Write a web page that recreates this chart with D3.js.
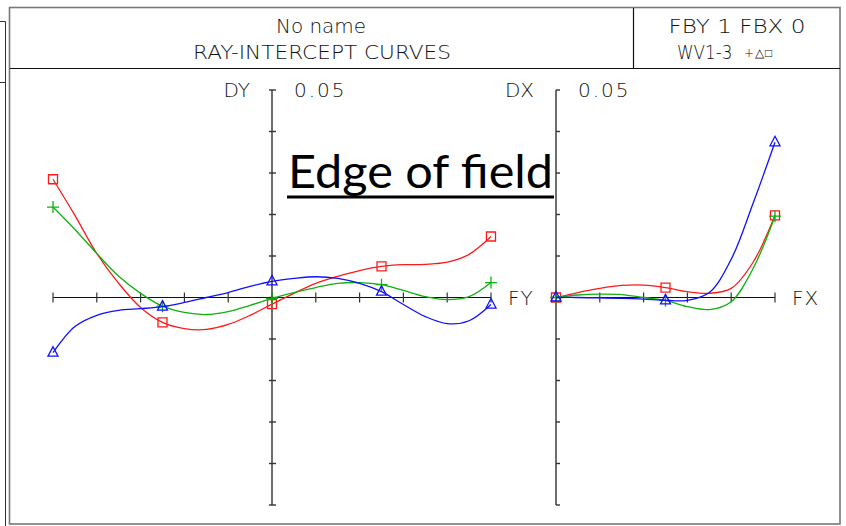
<!DOCTYPE html>
<html>
<head>
<meta charset="utf-8">
<script src="https://cdn.jsdelivr.net/npm/d3@7"></script>
<style>
  body { margin: 0; background: #fff; }
  svg text { font-family: "DejaVu Sans", sans-serif; font-weight: 200; fill: #111; }
</style>
</head>
<body>
<div id="chart-area"></div>
<script>
// ray fan samples
const fyValues = [-1, -0.9, -0.8, -0.7, -0.6, -0.5, -0.4, -0.3, -0.2, -0.1, 0, 0.1, 0.2, 0.3, 0.4, 0.5, 0.6, 0.7, 0.8, 0.9, 1];
const dyRed = [0.0285, 0.0198, 0.0106, 0.0034, -0.0024, -0.0060, -0.0075, -0.0077, -0.0065, -0.0043, -0.0016, 0.0010, 0.0034, 0.0051, 0.0065, 0.0075, 0.0079, 0.0080, 0.0085, 0.0104, 0.0147];
const dyGreen = [0.0218, 0.0164, 0.0106, 0.0051, 0.0010, -0.0021, -0.0036, -0.0041, -0.0034, -0.0019, -0.0002, 0.0012, 0.0024, 0.0034, 0.0036, 0.0031, 0.0017, 0.0002, -0.0005, 0.0002, 0.0036];
const dyBlue = [-0.0133, -0.0070, -0.0043, -0.0031, -0.0027, -0.0022, -0.0012, 0, 0.0012, 0.0027, 0.0039, 0.0046, 0.0050, 0.0046, 0.0034, 0.0014, -0.0017, -0.0046, -0.0063, -0.0056, -0.0017];

const fxValues = [0, 0.1, 0.2, 0.3, 0.4, 0.5, 0.6, 0.7, 0.8, 0.9, 1];
const dxRed = [0, 0.0012, 0.0022, 0.0029, 0.0030, 0.0024, 0.0014, 0.0010, 0.0022, 0.0085, 0.0198];
const dxGreen = [0, 0.0006, 0.0008, 0.0007, 0, -0.0007, -0.0022, -0.0029, -0.0010, 0.0070, 0.0196];
const dxBlue = [0, 0, -0.0001, -0.0002, -0.0004, -0.0007, -0.0007, 0.0012, 0.0092, 0.0227, 0.0374];

const markerStep = 5; // markers every 5th sample
const axisMax = 0.05;

const colors = { red: "#ff1a1a", green: "#10b010", blue: "#1010ff" };

const svg = d3.select("#chart-area").append("svg")
  .attr("width", 846)
  .attr("height", 526);

// frames
svg.append("rect")
  .attr("x", 9.5).attr("y", 7.5)
  .attr("width", 830.5).attr("height", 516.5)
  .attr("fill", "none").attr("stroke", "#777").attr("stroke-width", 1.6);
svg.append("line").attr("x1", 10).attr("x2", 840).attr("y1", 68.5).attr("y2", 68.5)
  .attr("stroke", "#111").attr("stroke-width", 1.2);
svg.append("line").attr("x1", 633.5).attr("x2", 633.5).attr("y1", 8).attr("y2", 68.5)
  .attr("stroke", "#111").attr("stroke-width", 1.2);
svg.append("path").attr("d", "M0,21.5H5.5V526 M0,82.5H5.5")
  .attr("fill", "none").attr("stroke", "#333").attr("stroke-width", 1);

// header
const headerText = (x, y, size, len, txt, anchor) => svg.append("text")
  .attr("x", x).attr("y", y)
  .attr("text-anchor", anchor || "start")
  .attr("font-size", size)
  .attr("textLength", len)
  .attr("lengthAdjust", "spacingAndGlyphs")
  .text(txt);

headerText(321, 33, 20, 90, "No name", "middle");
headerText(322, 59, 20, 258, "RAY-INTERCEPT CURVES", "middle");
headerText(737, 33, 20, 137, "FBY 1 FBX 0", "middle");
svg.append("text")
  .attr("transform", "translate(677,59) scale(0.84,1)")
  .attr("font-size", 20)
  .text("WV1-3");
svg.append("text")
  .attr("x", 744).attr("y", 57)
  .attr("font-size", 12).attr("letter-spacing", 1)
  .text("+△□");

const lineWidth = 1.3;

const drawPanel = (cfg) => {
  const { x, y, xs, series, twoSided, xLabel, yLabel } = cfg;
  const g = svg.append("g");
  const x0 = x(0);
  const y0 = y(0);

  // vertical axis
  g.append("line")
    .attr("x1", x0).attr("x2", x0)
    .attr("y1", y(axisMax)).attr("y2", y(-axisMax))
    .attr("stroke", "#6e6e6e").attr("stroke-width", 2);
  g.selectAll(".ytick").data(y.ticks(10)).enter().append("line")
    .attr("x1", twoSided ? x0 - 3 : x0)
    .attr("x2", x0 + 4)
    .attr("y1", d => y(d)).attr("y2", d => y(d))
    .attr("stroke", "#333").attr("stroke-width", 1.4);

  // horizontal axis
  const [xa, xb] = x.domain();
  g.append("line")
    .attr("x1", x(xa)).attr("x2", x(xb))
    .attr("y1", y0).attr("y2", y0)
    .attr("stroke", "#111").attr("stroke-width", 1.2);
  g.selectAll(".xtick").data(x.ticks(twoSided ? 10 : 5)).enter().append("line")
    .attr("x1", d => x(d)).attr("x2", d => x(d))
    .attr("y1", y0 - 5).attr("y2", y0 + 5)
    .attr("stroke", "#333").attr("stroke-width", 1.2);

  g.append("text").attr("x", x0 - 22).attr("y", 97).attr("text-anchor", "end")
    .attr("font-size", 20).text(yLabel);
  g.append("text").attr("x", x0 + 22).attr("y", 97)
    .attr("font-size", 20).attr("letter-spacing", 2).text("0.05");
  g.append("text").attr("x", x(xb) + 17).attr("y", 305)
    .attr("font-size", 20).attr("letter-spacing", 1).text(xLabel);

  const line = d3.line()
    .x((d, i) => x(xs[i]))
    .y(d => y(d))
    .curve(d3.curveCatmullRom.alpha(0.5));

  series.forEach(s => {
    g.append("path")
      .attr("d", line(s.values))
      .attr("fill", "none")
      .attr("stroke", s.color)
      .attr("stroke-width", lineWidth);

    const marks = s.values
      .map((v, i) => ({ fx: xs[i], v }))
      .filter((d, i) => i % markerStep === 0);

    g.selectAll(null).data(marks).enter().append("path")
      .attr("transform", d => `translate(${x(d.fx)},${y(d.v)})`)
      .attr("d", s.shape)
      .attr("fill", "none")
      .attr("stroke", s.color)
      .attr("stroke-width", 1.3);
  });
};

const plusShape = "M-6,0H6M0,-6V6";
const triShape = "M0,-6L5,3.5H-5Z";
const squareShape = "M-4.5,-4.5H4.5V4.5H-4.5Z";

const yScale = d3.scaleLinear().domain([-axisMax, axisMax]).range([505, 90]);

drawPanel({
  x: d3.scaleLinear().domain([-1, 1]).range([53, 491]),
  y: yScale,
  xs: fyValues,
  twoSided: true,
  xLabel: "FY",
  yLabel: "DY",
  series: [
    { values: dyRed, color: colors.red, shape: squareShape },
    { values: dyGreen, color: colors.green, shape: plusShape },
    { values: dyBlue, color: colors.blue, shape: triShape },
  ],
});

drawPanel({
  x: d3.scaleLinear().domain([0, 1]).range([556, 775]),
  y: yScale,
  xs: fxValues,
  twoSided: false,
  xLabel: "FX",
  yLabel: "DX",
  series: [
    { values: dxRed, color: colors.red, shape: squareShape },
    { values: dxGreen, color: colors.green, shape: plusShape },
    { values: dxBlue, color: colors.blue, shape: triShape },
  ],
});

// annotation
svg.append("text")
  .attr("x", 288).attr("y", 188)
  .attr("textLength", 265).attr("lengthAdjust", "spacingAndGlyphs")
  .style("font-family", "Lato, 'Open Sans', sans-serif")
  .style("font-weight", 400)
  .style("fill", "#000")
  .attr("font-size", 46)
  .text("Edge of field");
svg.append("line")
  .attr("x1", 287).attr("x2", 554).attr("y1", 197).attr("y2", 197)
  .attr("stroke", "#000").attr("stroke-width", 3);
</script>
</body>
</html>
